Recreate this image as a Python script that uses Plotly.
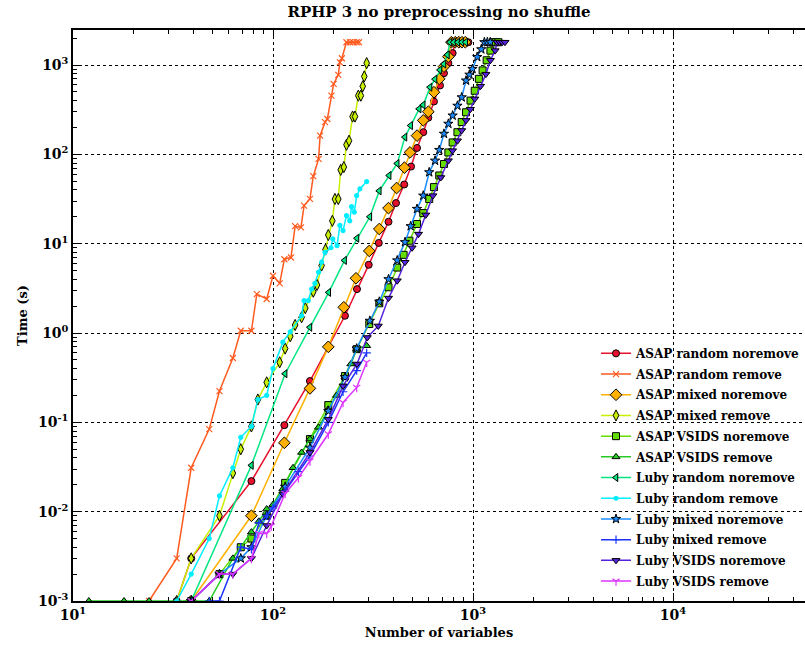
import plotly.graph_objects as go

# ---------------- data ----------------
names = [
    "ASAP random noremove", "ASAP random remove", "ASAP mixed noremove", "ASAP mixed remove",
    "ASAP VSIDS noremove", "ASAP VSIDS remove", "Luby random noremove", "Luby random remove",
    "Luby mixed noremove", "Luby mixed remove", "Luby VSIDS noremove", "Luby VSIDS remove",
]

asap_random_noremove_x = [33, 39, 78, 114, 153, 229, 263, 301, 338, 378, 412, 453, 490, 525, 564, 598, 638, 684, 716, 753, 791, 815, 850, 880, 915, 948]
asap_random_noremove_y = [0.001, 0.003, 0.022, 0.093, 0.29, 1.56, 3.1, 5.8, 10.2, 17.6, 28.5, 46, 73, 118, 177, 257, 390, 590, 810, 1050, 1360, 1800, 1800, 1800, 1800, 1800]

asap_random_remove_x = [24, 33, 39, 48, 54, 63, 69, 78, 83, 93, 100, 108, 114, 123, 129, 138, 143, 153, 159, 169, 172, 182, 187, 196, 201, 212, 216, 221, 233, 243, 251, 262, 269]
asap_random_remove_y = [0.001, 0.003, 0.031, 0.084, 0.224, 0.525, 1.06, 1.06, 2.73, 2.4, 4.38, 3.6, 6.7, 7.0, 15.7, 15.2, 26.7, 31.7, 57, 89, 162, 229, 249, 454, 615, 776, 1070, 1190, 1800, 1800, 1800, 1800, 1800]

asap_mixed_noremove_x = [39, 78, 114, 153, 189, 226, 260, 303, 340, 378, 415, 454, 484, 525, 564, 598, 638, 678, 716, 753, 780, 815, 850, 880, 915]
asap_mixed_noremove_y = [0.001, 0.009, 0.059, 0.24, 0.70, 1.94, 4.1, 8.3, 14.6, 25, 42, 71, 105, 162, 240, 300, 496, 700, 960, 1240, 1800, 1800, 1800, 1800, 1800]

asap_mixed_remove_x = [33, 39, 54, 63, 69, 78, 84, 93, 108, 115, 122, 129, 139, 145, 159, 166, 175, 183, 189, 198, 204, 212, 218, 226, 233, 240, 250, 257, 267, 275, 281, 286, 294]
asap_mixed_remove_y = [0.001, 0.003, 0.009, 0.027, 0.050, 0.090, 0.18, 0.28, 0.47, 0.67, 0.92, 1.23, 1.5, 1.9, 2.9, 3.45, 5.7, 8.6, 12.5, 18, 31.6, 31.6, 67, 72, 128, 142, 265, 265, 454, 454, 578, 745, 1050]

asap_vsids_noremove_x = [39, 54, 69, 78, 93, 115, 153, 189, 229, 262, 303, 340, 378, 418, 450, 481, 525, 564, 604, 638, 678, 716, 753, 791, 836, 878, 923, 972, 1020, 1070, 1117, 1170, 1222, 1260, 1300, 1340]
asap_vsids_noremove_y = [0.001, 0.002, 0.004, 0.005, 0.009, 0.021, 0.065, 0.156, 0.33, 0.66, 1.26, 2.15, 3.25, 5.4, 7.5, 10.8, 16.6, 22, 31.6, 43, 58, 78, 105, 136, 177, 230, 296, 400, 515, 700, 870, 1130, 1450, 1800, 1800, 1800]

asap_vsids_remove_x = [12, 18, 24, 33, 39, 48, 63, 78, 85, 93, 100, 112, 126, 139, 153, 169, 189, 208, 229, 245, 262, 294]
asap_vsids_remove_y = [0.001, 0.001, 0.001, 0.001, 0.001, 0.001, 0.003, 0.0059, 0.0078, 0.0107, 0.012, 0.018, 0.031, 0.046, 0.065, 0.088, 0.14, 0.2, 0.32, 0.45, 0.66, 0.72]

luby_random_noremove_x = [39, 78, 115, 153, 190, 228, 263, 305, 340, 381, 418, 457, 488, 538, 564, 610, 646, 684, 716, 745, 767, 800, 840, 880, 920]
luby_random_noremove_y = [0.001, 0.033, 0.35, 1.16, 2.85, 6.5, 11.5, 20, 39, 58, 79, 156, 210, 323, 357, 565, 695, 880, 1025, 1300, 1800, 1800, 1800, 1800, 1800]

luby_random_remove_x = [33, 39, 48, 54, 63, 69, 78, 84, 93, 100, 112, 122, 139, 143, 150, 156, 162, 169, 175, 182, 195, 199, 209, 216, 224, 233, 242, 247, 255, 262, 272, 294]
luby_random_remove_y = [0.001, 0.002, 0.005, 0.015, 0.031, 0.068, 0.090, 0.18, 0.20, 0.40, 0.79, 1.03, 1.56, 2.3, 2.3, 3.1, 3.6, 4.8, 6.2, 8.0, 9.0, 11.3, 9.5, 16, 14, 20.6, 18, 26, 22.5, 34.5, 41, 49.6]

luby_mixed_noremove_x = [39, 54, 69, 78, 93, 115, 153, 189, 229, 262, 305, 340, 378, 418, 457, 488, 525, 564, 604, 646, 678, 716, 753, 791, 836, 878, 923, 960, 994, 1050, 1100, 1140, 1180, 1220]
luby_mixed_noremove_y = [0.001, 0.002, 0.003, 0.004, 0.009, 0.019, 0.052, 0.134, 0.32, 0.67, 1.37, 2.24, 4.0, 6.5, 10.4, 15.7, 24.5, 34.5, 63, 85, 112, 170, 220, 272, 350, 435, 670, 780, 905, 1230, 1500, 1800, 1800, 1800]

luby_mixed_remove_x = [48, 54, 69, 78, 85, 93, 100, 115, 134, 153, 189, 224, 262, 294]
luby_mixed_remove_y = [0.001, 0.001, 0.004, 0.0038, 0.0075, 0.009, 0.011, 0.017, 0.028, 0.042, 0.10, 0.22, 0.38, 0.6]

luby_vsids_noremove_x = [39, 54, 63, 78, 93, 112, 153, 189, 224, 263, 296, 336, 378, 418, 457, 496, 534, 580, 630, 690, 753, 790, 836, 878, 923, 970, 1020, 1090, 1160, 1222, 1290, 1320, 1360, 1400, 1445]
luby_vsids_noremove_y = [0.001, 0.002, 0.002, 0.003, 0.007, 0.0158, 0.046, 0.108, 0.256, 0.45, 0.89, 1.2, 2.46, 3.85, 6.2, 9, 12.8, 21, 34.5, 55, 85, 110, 142, 185, 240, 320, 418, 580, 790, 1130, 1450, 1800, 1800, 1800, 1800]

luby_vsids_remove_x = [39, 54, 63, 78, 85, 93, 98, 115, 134, 153, 189, 224, 262, 294]
luby_vsids_remove_y = [0.001, 0.002, 0.002, 0.003, 0.0057, 0.0057, 0.0069, 0.016, 0.024, 0.037, 0.074, 0.167, 0.246, 0.47]

x_tick_vals = [10, 100, 1000, 10000]
x_tick_text = ["10<sup>1</sup>", "10<sup>2</sup>", "10<sup>3</sup>", "10<sup>4</sup>"]
y_tick_vals = [0.001, 0.01, 0.1, 1, 10, 100, 1000]
y_tick_text = ["10<sup>-3</sup>", "10<sup>-2</sup>", "10<sup>-1</sup>", "10<sup>0</sup>",
               "10<sup>1</sup>", "10<sup>2</sup>", "10<sup>3</sup>"]

# ---------------- styles ----------------
series = [
    (asap_random_noremove_x, asap_random_noremove_y, "#e8112d", "circle", 7, True),
    (asap_random_remove_x, asap_random_remove_y, "#ff5a1f", "x-thin", 6, False),
    (asap_mixed_noremove_x, asap_mixed_noremove_y, "#ffb000", "diamond", 9, True),
    (asap_mixed_remove_x, asap_mixed_remove_y, "#c8f000", "diamond-tall", 8, True),
    (asap_vsids_noremove_x, asap_vsids_noremove_y, "#66dd00", "square", 7, True),
    (asap_vsids_remove_x, asap_vsids_remove_y, "#22cc22", "triangle-up", 7, True),
    (luby_random_noremove_x, luby_random_noremove_y, "#00e680", "triangle-left", 7, True),
    (luby_random_remove_x, luby_random_remove_y, "#00eeff", "circle", 4, False),
    (luby_mixed_noremove_x, luby_mixed_noremove_y, "#1a8cff", "star", 7, True),
    (luby_mixed_remove_x, luby_mixed_remove_y, "#1a33ff", "cross-thin", 6, False),
    (luby_vsids_noremove_x, luby_vsids_noremove_y, "#5522dd", "triangle-down", 7, True),
    (luby_vsids_remove_x, luby_vsids_remove_y, "#dd33ff", "y-down", 6, False),
]

FONT = "DejaVu Serif"

fig = go.Figure()
for i, (name, (xs, ys, col, sym, size, edged)) in enumerate(zip(names, series)):
    if edged:
        marker = dict(symbol=sym, size=size, color=col, line=dict(color="black", width=1))
    else:
        marker = dict(symbol=sym, size=size, color=col, line=dict(color=col, width=1.2))
    fig.add_trace(go.Scatter(
        x=xs, y=ys, mode="lines+markers", name=name, legendgroup="g%d" % i,
        line=dict(color=col, width=1.5), marker=marker, cliponaxis=True,
    ))

minor_x = [m * 10 ** e for e in range(1, 5) for m in range(2, 10)]
minor_y = [m * 10.0 ** e for e in range(-3, 4) for m in range(2, 10)]

axis_font = dict(family=FONT, size=13, color="black", weight="bold")
tick_font = dict(family=FONT, size=14, color="black", weight="bold")

fig.update_layout(
    width=805, height=653,
    margin=dict(l=73, r=0, t=30, b=52, autoexpand=False),
    paper_bgcolor="white", plot_bgcolor="white",
    font=dict(family=FONT, color="black", weight="bold"),
    title=dict(text="RPHP 3 no preprocessing no shuffle", x=0.5, xref="paper", xanchor="center",
               y=0.982, yanchor="middle",
               font=dict(family=FONT, size=15, color="black", weight="bold")),
    showlegend=True,
    legend=dict(x=0.7145, xanchor="left", y=0.009, yanchor="bottom", bgcolor="rgba(0,0,0,0)",
                font=dict(family=FONT, size=12, color="black", weight="bold"),
                borderwidth=0, tracegroupgap=1.7, itemwidth=30, traceorder="grouped"),
)

fig.update_xaxes(
    type="log", range=[1, 4.66], automargin=False,
    title=dict(text="Number of variables", font=axis_font, standoff=6),
    tickmode="array", tickvals=x_tick_vals, ticktext=x_tick_text, tickfont=tick_font,
    showgrid=True, gridcolor="black", griddash="dot", gridwidth=1,
    showline=True, linecolor="black", linewidth=1.5, mirror="allticks",
    ticks="inside", ticklen=8, tickcolor="black", zeroline=False,
    minor=dict(tickmode="array", tickvals=minor_x, ticks="inside", ticklen=4, tickcolor="black", showgrid=False),
)
fig.update_yaxes(
    type="log", range=[-3, 3.392], automargin=False,
    title=dict(text="Time (s)", font=axis_font, standoff=8),
    tickmode="array", tickvals=y_tick_vals, ticktext=y_tick_text, tickfont=tick_font,
    showgrid=True, gridcolor="black", griddash="dot", gridwidth=1,
    showline=True, linecolor="black", linewidth=1.5, mirror=False,
    ticks="inside", ticklen=8, tickcolor="black", zeroline=False,
    minor=dict(tickmode="array", tickvals=minor_y, ticks="inside", ticklen=4, tickcolor="black", showgrid=False),
)

fig.write_html("out.html", config={"displayModeBar": False},
               post_script="document.body.style.margin='0';document.body.style.overflow='hidden';")
